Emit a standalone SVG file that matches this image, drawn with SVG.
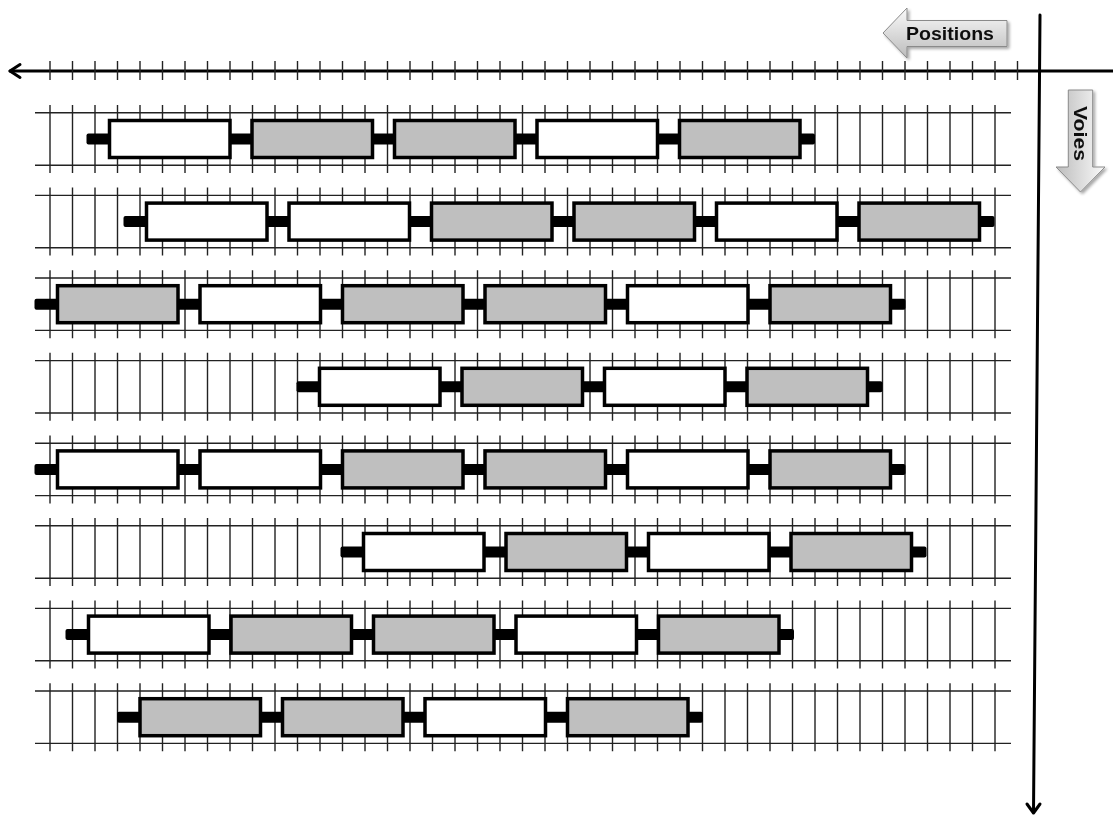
<svg xmlns="http://www.w3.org/2000/svg" xmlns:xlink="http://www.w3.org/1999/xlink" width="1113" height="817" viewBox="0 0 1113 817">
<style>
.axis{stroke:#000;stroke-width:3;fill:none;stroke-linecap:round;stroke-linejoin:round}
.tick{stroke:#222;stroke-width:1.4;fill:none}
.rail{stroke:#222;stroke-width:1.4;fill:none}
.sleeper{stroke:#222;stroke-width:1.4;fill:none}
.car{stroke:#000;stroke-width:3.5}
.w{fill:#fff}
.g{fill:#bfbfbf}
.coupler{fill:#000}
.lbl{fill:url(#gradH);stroke:#8a8a8a;stroke-width:1}
.lblv{fill:url(#gradV);stroke:#8a8a8a;stroke-width:1}
.lbltxt{font-family:"Liberation Sans",Arial,sans-serif;font-weight:bold;font-size:18px;fill:#111}
</style>
<defs>
<linearGradient id="gradH" x1="0" y1="0" x2="0" y2="1">
<stop offset="0" stop-color="#fafafa"/>
<stop offset="1" stop-color="#bcbcbc"/>
</linearGradient>
<linearGradient id="gradV" x1="1" y1="0" x2="0" y2="0">
<stop offset="0" stop-color="#fafafa"/>
<stop offset="1" stop-color="#bcbcbc"/>
</linearGradient>
<filter id="shadow" x="-20%" y="-20%" width="140%" height="140%">
<feGaussianBlur in="SourceAlpha" stdDeviation="1.5"/>
<feOffset dx="1.5" dy="1.5" result="b"/>
<feComponentTransfer><feFuncA type="linear" slope="0.35"/></feComponentTransfer>
<feMerge><feMergeNode/><feMergeNode in="SourceGraphic"/></feMerge>
</filter>
<g id="track">
<path class="rail" d="M35 -26.2H1011M35 26.2H1011"/>
<path class="sleeper" d="M50 -34V34M72.5 -34V34M95 -34V34M117.5 -34V34M140 -34V34M162.5 -34V34M185 -34V34M207.5 -34V34M230 -34V34M252.5 -34V34M275 -34V34M297.5 -34V34M320 -34V34M342.5 -34V34M365 -34V34M387.5 -34V34M410 -34V34M432.5 -34V34M455 -34V34M477.5 -34V34M500 -34V34M522.5 -34V34M545 -34V34M567.5 -34V34M590 -34V34M612.5 -34V34M635 -34V34M657.5 -34V34M680 -34V34M702.5 -34V34M725 -34V34M747.5 -34V34M770 -34V34M792.5 -34V34M815 -34V34M837.5 -34V34M860 -34V34M882.5 -34V34M905 -34V34M927.5 -34V34M950 -34V34M972.5 -34V34M995 -34V34"/>
</g>
</defs>
<rect width="1113" height="817" fill="#fff"/>

<g id="axes">
<path class="axis" d="M10 71H1113"/>
<path class="axis" d="M20 64.5L10 71L20 77.5"/>
<path class="tick" d="M50 61V80M72.5 61V80M95 61V80M117.5 61V80M140 61V80M162.5 61V80M185 61V80M207.5 61V80M230 61V80M252.5 61V80M275 61V80M297.5 61V80M320 61V80M342.5 61V80M365 61V80M387.5 61V80M410 61V80M432.5 61V80M455 61V80M477.5 61V80M500 61V80M522.5 61V80M545 61V80M567.5 61V80M590 61V80M612.5 61V80M635 61V80M657.5 61V80M680 61V80M702.5 61V80M725 61V80M747.5 61V80M770 61V80M792.5 61V80M815 61V80M837.5 61V80M860 61V80M882.5 61V80M905 61V80M927.5 61V80M950 61V80M972.5 61V80M995 61V80M1017.5 61V80"/>
<path class="axis" d="M1040 15L1033.5 812"/>
<path class="axis" d="M1027 804L1033.5 813L1040 804"/>
</g>

<g id="label-positions" filter="url(#shadow)">
<path class="lbl" d="M883 33L907 8V20.5H1007V46.5H907V58Z"/>
<text class="lbltxt" x="906" y="39.5" textLength="88" lengthAdjust="spacingAndGlyphs">Positions</text>
</g>
<g id="label-voies" filter="url(#shadow)">
<path class="lblv" d="M1080.5 192L1056 167H1068.3V90H1092.7V167H1105Z"/>
<text class="lbltxt" transform="translate(1073.5 133.5) rotate(90)" x="0" y="0" text-anchor="middle" textLength="55" lengthAdjust="spacingAndGlyphs">Voies</text>
</g>

<g id="tracks">
<use xlink:href="#track" transform="translate(0 139)"/>
<use xlink:href="#track" transform="translate(0 221.6)"/>
<use xlink:href="#track" transform="translate(0 304.2)"/>
<use xlink:href="#track" transform="translate(0 386.8)"/>
<use xlink:href="#track" transform="translate(0 469.4)"/>
<use xlink:href="#track" transform="translate(0 552)"/>
<use xlink:href="#track" transform="translate(0 634.6)"/>
<use xlink:href="#track" transform="translate(0 717.2)"/>
</g>

<g id="connectors">
<rect class="coupler" x="86.5" y="133.5" width="728.5" height="11" rx="2"/>
<rect class="coupler" x="123.5" y="216.1" width="871" height="11" rx="2"/>
<rect class="coupler" x="34.5" y="298.7" width="871" height="11" rx="2"/>
<rect class="coupler" x="296.5" y="381.3" width="586" height="11" rx="2"/>
<rect class="coupler" x="34.5" y="463.9" width="871" height="11" rx="2"/>
<rect class="coupler" x="340.5" y="546.5" width="586" height="11" rx="2"/>
<rect class="coupler" x="65.5" y="629.1" width="728.5" height="11" rx="2"/>
<rect class="coupler" x="117" y="711.7" width="586" height="11" rx="2"/>
</g>

<g id="train1" transform="translate(0 139)">
<g id="t1c1"><rect class="car w" x="109.5" y="-18.5" width="120.5" height="37"/></g>
<g id="t1c2"><rect class="car g" x="252" y="-18.5" width="120.5" height="37"/></g>
<g id="t1c3"><rect class="car g" x="394.5" y="-18.5" width="120.5" height="37"/></g>
<g id="t1c4"><rect class="car w" x="537" y="-18.5" width="120.5" height="37"/></g>
<g id="t1c5"><rect class="car g" x="679.5" y="-18.5" width="120.5" height="37"/></g>
</g>
<g id="train2" transform="translate(0 221.6)">
<g id="t2c1"><rect class="car w" x="146.5" y="-18.5" width="120.5" height="37"/></g>
<g id="t2c2"><rect class="car w" x="289" y="-18.5" width="120.5" height="37"/></g>
<g id="t2c3"><rect class="car g" x="431.5" y="-18.5" width="120.5" height="37"/></g>
<g id="t2c4"><rect class="car g" x="574" y="-18.5" width="120.5" height="37"/></g>
<g id="t2c5"><rect class="car w" x="716.5" y="-18.5" width="120.5" height="37"/></g>
<g id="t2c6"><rect class="car g" x="859" y="-18.5" width="120.5" height="37"/></g>
</g>
<g id="train3" transform="translate(0 304.2)">
<g id="t3c1"><rect class="car g" x="57.5" y="-18.5" width="120.5" height="37"/></g>
<g id="t3c2"><rect class="car w" x="200" y="-18.5" width="120.5" height="37"/></g>
<g id="t3c3"><rect class="car g" x="342.5" y="-18.5" width="120.5" height="37"/></g>
<g id="t3c4"><rect class="car g" x="485" y="-18.5" width="120.5" height="37"/></g>
<g id="t3c5"><rect class="car w" x="627.5" y="-18.5" width="120.5" height="37"/></g>
<g id="t3c6"><rect class="car g" x="770" y="-18.5" width="120.5" height="37"/></g>
</g>
<g id="train4" transform="translate(0 386.8)">
<g id="t4c1"><rect class="car w" x="319.5" y="-18.5" width="120.5" height="37"/></g>
<g id="t4c2"><rect class="car g" x="462" y="-18.5" width="120.5" height="37"/></g>
<g id="t4c3"><rect class="car w" x="604.5" y="-18.5" width="120.5" height="37"/></g>
<g id="t4c4"><rect class="car g" x="747" y="-18.5" width="120.5" height="37"/></g>
</g>
<g id="train5" transform="translate(0 469.4)">
<g id="t5c1"><rect class="car w" x="57.5" y="-18.5" width="120.5" height="37"/></g>
<g id="t5c2"><rect class="car w" x="200" y="-18.5" width="120.5" height="37"/></g>
<g id="t5c3"><rect class="car g" x="342.5" y="-18.5" width="120.5" height="37"/></g>
<g id="t5c4"><rect class="car g" x="485" y="-18.5" width="120.5" height="37"/></g>
<g id="t5c5"><rect class="car w" x="627.5" y="-18.5" width="120.5" height="37"/></g>
<g id="t5c6"><rect class="car g" x="770" y="-18.5" width="120.5" height="37"/></g>
</g>
<g id="train6" transform="translate(0 552)">
<g id="t6c1"><rect class="car w" x="363.5" y="-18.5" width="120.5" height="37"/></g>
<g id="t6c2"><rect class="car g" x="506" y="-18.5" width="120.5" height="37"/></g>
<g id="t6c3"><rect class="car w" x="648.5" y="-18.5" width="120.5" height="37"/></g>
<g id="t6c4"><rect class="car g" x="791" y="-18.5" width="120.5" height="37"/></g>
</g>
<g id="train7" transform="translate(0 634.6)">
<g id="t7c1"><rect class="car w" x="88.5" y="-18.5" width="120.5" height="37"/></g>
<g id="t7c2"><rect class="car g" x="231" y="-18.5" width="120.5" height="37"/></g>
<g id="t7c3"><rect class="car g" x="373.5" y="-18.5" width="120.5" height="37"/></g>
<g id="t7c4"><rect class="car w" x="516" y="-18.5" width="120.5" height="37"/></g>
<g id="t7c5"><rect class="car g" x="658.5" y="-18.5" width="120.5" height="37"/></g>
</g>
<g id="train8" transform="translate(0 717.2)">
<g id="t8c1"><rect class="car g" x="140" y="-18.5" width="120.5" height="37"/></g>
<g id="t8c2"><rect class="car g" x="282.5" y="-18.5" width="120.5" height="37"/></g>
<g id="t8c3"><rect class="car w" x="425" y="-18.5" width="120.5" height="37"/></g>
<g id="t8c4"><rect class="car g" x="567.5" y="-18.5" width="120.5" height="37"/></g>
</g>
</svg>
